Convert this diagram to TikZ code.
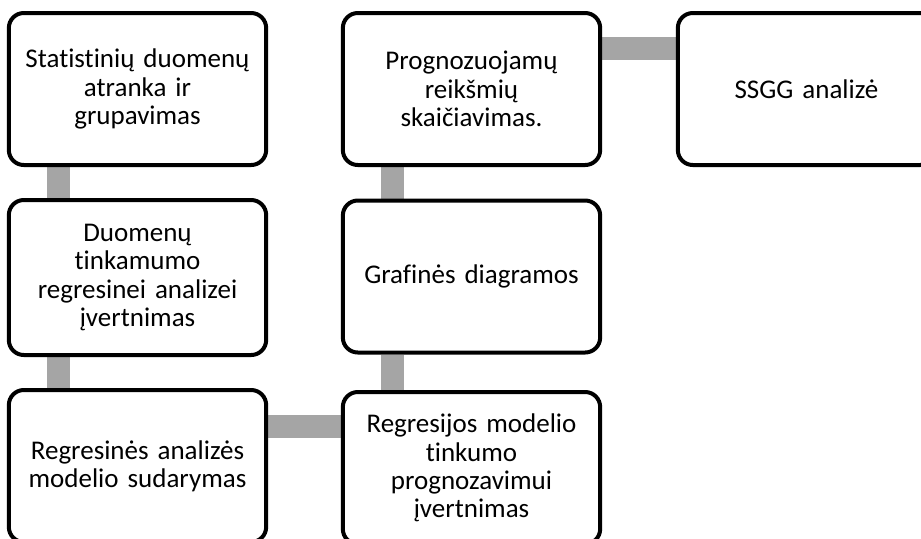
\documentclass[tikz,border=0pt]{standalone}
\usepackage{fontspec}
\setmainfont{Carlito}[Ligatures=NoCommon]
\usepackage{xcolor}
\usepackage{tikz}
\usetikzlibrary{positioning, backgrounds}

\definecolor{linkgray}{HTML}{A5A5A5}

\tikzset{
    stage/.style={draw, line width=2pt, rounded corners=7.5pt, fill=white,
        minimum width=127.5pt, minimum height=76pt, text width=122pt,
        align=center, font=\fontsize{13.5}{14.2}\selectfont},
    link/.style={draw=linkgray, line width=11.5pt}
}

\begin{document}
\begin{tikzpicture}[x=0.5pt, y=-0.5pt]
            \useasboundingbox (0,0) rectangle (921,538);

            \node[stage] (atranka) at (137.5,89) {Statistinių duomenų\\ atranka ir\\ grupavimas};
            \node[stage, minimum height=77.5pt] (tinkamumas) at (137.5,277.5) {Duomenų\\ tinkamumo\\ regresinei analizei\\ įvertnimas};
            \node[stage] (sudarymas) at (137.5,466) {Regresinės analizės\\ modelio sudarymas};
            \node[stage] (vertinimas) at (471.5,468) {Regresijos modelio\\ tinkumo\\ prognozavimui\\ įvertnimas};
            \node[stage] (diagramos) at (471.5,276.5) {Grafinės diagramos};
            \node[stage] (prognoze) at (471.5,89) {Prognozuojamų\\ reikšmių\\ skaičiavimas.};
            \node[stage] (ssgg) at (806.5,89) {SSGG analizė};

            \begin{scope}[on background layer]
                \draw[link] ([xshift=26pt]atranka.south west) -- ([xshift=26pt]tinkamumas.north west);
                \draw[link] ([xshift=26pt]tinkamumas.south west) -- ([xshift=26pt]sudarymas.north west);
                \draw[link] ([yshift=-19pt]sudarymas.north east) -- ([yshift=-19pt]sudarymas.north east -| vertinimas.west);
                \draw[link] ([xshift=26pt]vertinimas.north west) -- ([xshift=26pt]diagramos.south west);
                \draw[link] ([xshift=26pt]diagramos.north west) -- ([xshift=26pt]prognoze.south west);
                \draw[link] ([yshift=-18.5pt]prognoze.north east) -- ([yshift=-18.5pt]prognoze.north east -| ssgg.west);
            \end{scope}
        \end{tikzpicture}
\end{document}
